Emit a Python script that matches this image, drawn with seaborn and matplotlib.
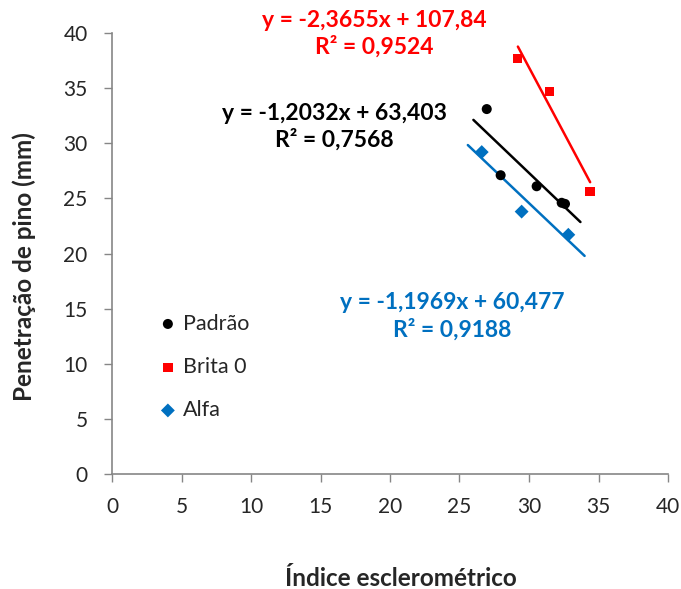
import matplotlib
matplotlib.use("Agg")
import matplotlib.pyplot as plt
import numpy as np
import pandas as pd
import seaborn as sns

sns.set_style("ticks")
plt.rcParams["font.family"] = ["Lato", "DejaVu Sans"]

# values
padrao_x = [26.96, 27.96, 30.55, 32.35, 32.59]
padrao_y = [33.1, 27.1, 26.1, 24.6, 24.5]
brita_x = [29.19, 31.46, 34.39]
brita_y = [37.7, 34.7, 25.6]
alfa_x = [26.6, 29.47, 32.83]
alfa_y = [29.2, 23.8, 21.7]

series = ["Padrão", "Brita 0", "Alfa"]
colors = ["#000000", "#FF0000", "#0070C0"]
markers = ["o", "s", "D"]
slopes = [-1.2032, -2.3655, -1.1969]
intercepts = [63.403, 107.84, 60.477]
r2 = [0.7568, 0.9524, 0.9188]
line_x = [[26.0, 33.7], [29.2, 34.4], [25.6, 34.0]]
eq_pos = [(16.0, 31.5), (18.9, 39.9), (24.5, 14.3)]

pts = pd.DataFrame({
    "x": padrao_x + brita_x + alfa_x,
    "y": padrao_y + brita_y + alfa_y,
    "serie": [series[0]] * len(padrao_x) + [series[1]] * len(brita_x) + [series[2]] * len(alfa_x),
})

fig, ax = plt.subplots(figsize=(6.81, 5.89), dpi=100)
fig.subplots_adjust(left=112 / 681, right=668 / 681, top=1 - 33 / 589, bottom=1 - 474 / 589)

sizes = {"Padrão": 52, "Brita 0": 45, "Alfa": 50}
for s, c, m in zip(series, colors, markers):
    d = pts[pts["serie"] == s]
    sns.scatterplot(data=d, x="x", y="y", color=c, marker=m, s=sizes[s],
                    edgecolor="none", label=s, ax=ax, zorder=3)

for i, s in enumerate(series):
    lx = np.array(line_x[i])
    ly = slopes[i] * lx + intercepts[i]
    sns.lineplot(x=lx, y=ly, color=colors[i], linewidth=1.8, ax=ax, legend=False, zorder=2)
    txt = "y = {}x + {}\nR² = {}".format(
        str(slopes[i]).replace(".", ","),
        ("%g" % intercepts[i]).replace(".", ","),
        str(r2[i]).replace(".", ","))
    ax.text(eq_pos[i][0], eq_pos[i][1], txt, color=colors[i], fontsize=16.5,
            fontweight="bold", ha="center", va="center", linespacing=1.25)

ax.set_xlim(0, 40)
ax.set_ylim(0, 40)
ax.set_xticks(range(0, 41, 5))
ax.set_yticks(range(0, 41, 5))
ax.tick_params(axis="both", direction="out", length=5.5, width=1, color="#868686",
               labelsize=15)
ax.tick_params(axis="x", pad=11)
ax.tick_params(axis="y", pad=12)
for sp in ["top", "right"]:
    ax.spines[sp].set_visible(False)
for sp in ["left", "bottom"]:
    ax.spines[sp].set_color("#868686")
    ax.spines[sp].set_linewidth(1.2)

ax.set_xlabel("Índice esclerométrico", fontsize=17.5, fontweight="bold")
ax.set_ylabel("Penetração de pino (mm)", fontsize=17.5, fontweight="bold")
ax.xaxis.set_label_coords(0.519, -0.21)
ax.yaxis.set_label_coords(-0.137, 0.47)

leg = ax.legend(loc="center left", bbox_to_anchor=(0.085, 0.243), frameon=False,
                fontsize=15.5, borderaxespad=0, borderpad=0, handletextpad=0.3,
                labelspacing=1.08, handlelength=0.8)

fig.savefig("out.png", dpi=100)
